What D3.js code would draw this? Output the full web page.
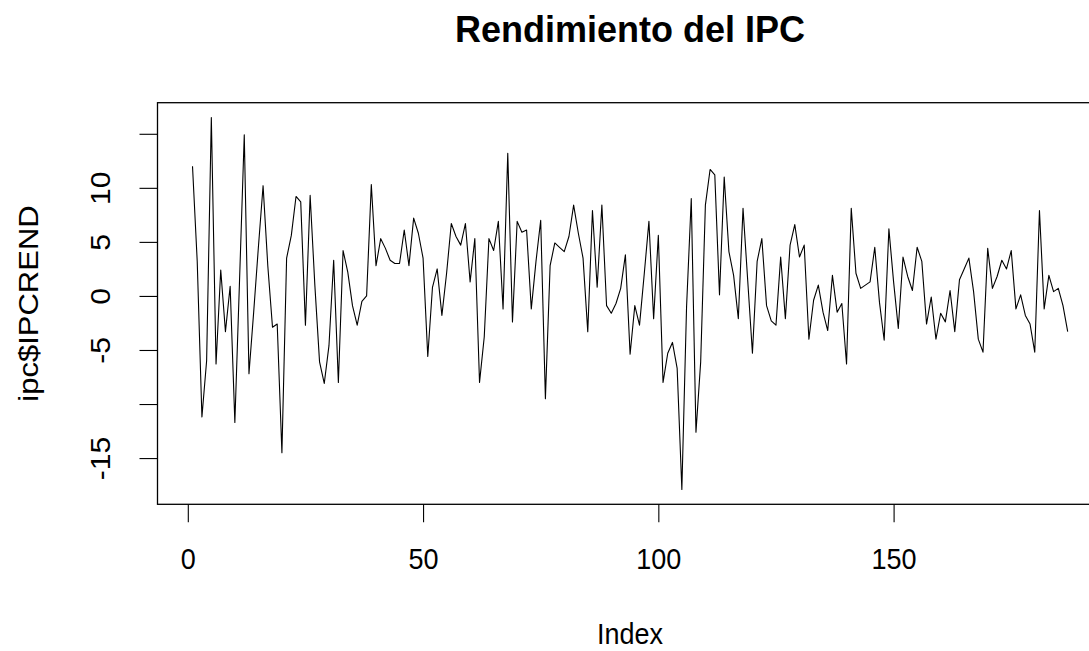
<!DOCTYPE html>
<html>
<head>
<meta charset="utf-8">
<script src="https://cdn.jsdelivr.net/npm/d3@7"></script>
<style>
  html, body { margin: 0; padding: 0; background: #fff; }
  svg { display: block; }
  text { font-family: "Liberation Sans", Arial, sans-serif; fill: #000; }
</style>
</head>
<body>
<svg id="chart" width="1089" height="651"></svg>
<script>
// Monthly CPI return series (ipc$IPCREND), in observation order
const ipcRend = [
  12.0, 3.2, -11.2, -6.0, 16.5, -6.3, 2.4, -3.3, 0.9, -11.7,
  1.5, 14.9, -7.2, -1.5, 4.5, 10.2, 2.8, -2.9, -2.6, -14.5,
  3.5, 5.6, 9.2, 8.7, -2.7, 9.3, 1.0, -6.1, -8.1, -4.6,
  3.3, -8.0, 4.2, 2.2, -0.9, -2.7, -0.5, 0.0, 10.3, 2.8,
  5.3, 4.4, 3.3, 3.0, 3.0, 6.1, 2.8, 7.2, 5.8, 3.5,
  -5.6, 0.8, 2.5, -1.8, 2.1, 6.7, 5.5, 4.7, 6.7, 1.3,
  5.3, -8.0, -3.8, 5.3, 4.2, 6.9, -1.2, 13.2, -2.4, 6.9,
  5.9, 6.1, -1.2, 3.2, 7.0, -9.5, 2.8, 4.9, 4.5, 4.1,
  5.5, 8.4, 5.8, 3.5, -3.3, 7.9, 0.8, 8.4, -0.9, -1.6,
  -0.7, 0.7, 3.8, -5.4, -0.9, -2.7, 2.0, 6.9, -2.1, 5.6,
  -8.0, -5.3, -4.3, -6.7, -17.9, -1.0, 9.0, -12.6, -6.1, 8.4,
  11.7, 11.2, 0.1, 11.0, 4.1, 1.9, -2.1, 8.1, 1.4, -5.3,
  3.2, 5.3, -0.9, -2.3, -2.7, 3.6, -2.1, 4.7, 6.6, 3.6,
  4.7, -4.0, -0.4, 1.0, -1.5, -3.2, 1.9, -1.5, -0.7, -6.3,
  8.1, 2.1, 0.7, 1.0, 1.3, 4.5, -0.6, -4.1, 6.2, 1.3,
  -3.0, 3.6, 1.8, 0.5, 4.5, 3.2, -2.6, -0.1, -4.0, -1.6,
  -2.4, 0.5, -3.3, 1.5, 2.5, 3.5, 0.4, -4.0, -5.2, 4.4,
  0.7, 1.8, 3.3, 2.5, 4.2, -1.2, 0.1, -1.8, -2.6, -5.2,
  7.9, -1.2, 1.9, 0.4, 0.7, -0.9, -3.3
];

// Axis ticks and which of them carry a label
const xTicks = [0, 50, 100, 150];
const yTicks = [-15, -10, -5, 0, 5, 10, 15];
const yTickLabels = [-15, -5, 0, 5, 10];

const chartTitle = "Rendimiento del IPC";
const xTitle = "Index";
const yTitle = "ipc$IPCREND";

// Plot region (the frame runs past the right edge of the canvas)
const plot = { left: 157.5, right: 1102.7, top: 102.7, bottom: 504.3 };
const baseFont = 30;
const narrow = 0.9;   // axis text is set slightly condensed

const n = ipcRend.length;
const index = d3.range(1, n + 1);

// base-graphics style 4% padding around the data range
function padRange(ext) {
  const d = (ext[1] - ext[0]) * 0.04;
  return [ext[0] - d, ext[1] + d];
}

const x = d3.scaleLinear()
  .domain(padRange([1, n]))
  .range([plot.left, plot.right]);

const y = d3.scaleLinear()
  .domain(padRange(d3.extent(ipcRend)))
  .range([plot.bottom, plot.top]);

const svg = d3.select("#chart");

// series line
const line = d3.line()
  .x((d, i) => x(index[i]))
  .y(d => y(d));

svg.append("path")
  .datum(ipcRend)
  .attr("d", line)
  .attr("fill", "none")
  .attr("stroke", "#000")
  .attr("stroke-width", 1.1)
  .attr("stroke-linejoin", "round");

// x axis
const xAxis = d3.axisBottom(x)
  .tickValues(xTicks)
  .tickSize(18)
  .tickSizeOuter(0)
  .tickFormat(d3.format("d"));

const gx = svg.append("g")
  .attr("transform", `translate(0,${plot.bottom})`)
  .call(xAxis);
gx.attr("font-family", null).attr("font-size", null);
gx.select(".domain").remove();
gx.selectAll(".tick line").attr("stroke", "#000").attr("stroke-width", 1.1);
gx.selectAll(".tick text")
  .attr("y", null)
  .attr("dy", null)
  .attr("transform", `translate(0,${569 - plot.bottom}) scale(${narrow},1)`)
  .attr("font-size", baseFont);

// y axis, labels turned to run along the axis
const yAxis = d3.axisLeft(y)
  .tickValues(yTicks)
  .tickSize(18)
  .tickSizeOuter(0)
  .tickFormat(d => yTickLabels.includes(d) ? String(d) : "");

const gy = svg.append("g")
  .attr("transform", `translate(${plot.left},0)`)
  .call(yAxis);
gy.attr("font-family", null).attr("font-size", null);
gy.select(".domain").remove();
gy.selectAll(".tick line").attr("stroke", "#000").attr("stroke-width", 1.1);
gy.selectAll(".tick text")
  .attr("x", null)
  .attr("dy", null)
  .attr("text-anchor", "middle")
  .attr("transform", `translate(${110 - plot.left},0) rotate(-90) scale(1,${narrow})`)
  .attr("font-size", baseFont);

// frame
svg.append("rect")
  .attr("x", plot.left)
  .attr("y", plot.top)
  .attr("width", plot.right - plot.left)
  .attr("height", plot.bottom - plot.top)
  .attr("fill", "none")
  .attr("stroke", "#000")
  .attr("stroke-width", 1.3);

const midX = (plot.left + plot.right) / 2;

// titles
svg.append("text")
  .attr("x", midX)
  .attr("y", 42)
  .attr("text-anchor", "middle")
  .attr("font-weight", "bold")
  .attr("font-size", 36)
  .text(chartTitle);

svg.append("text")
  .attr("transform", `translate(${midX},644) scale(${narrow},1)`)
  .attr("text-anchor", "middle")
  .attr("font-size", baseFont)
  .text(xTitle);

svg.append("text")
  .attr("transform", `translate(38,${(plot.top + plot.bottom) / 2}) rotate(-90) scale(1,${narrow})`)
  .attr("text-anchor", "middle")
  .attr("font-size", 31)
  .text(yTitle);
</script>
</body>
</html>
